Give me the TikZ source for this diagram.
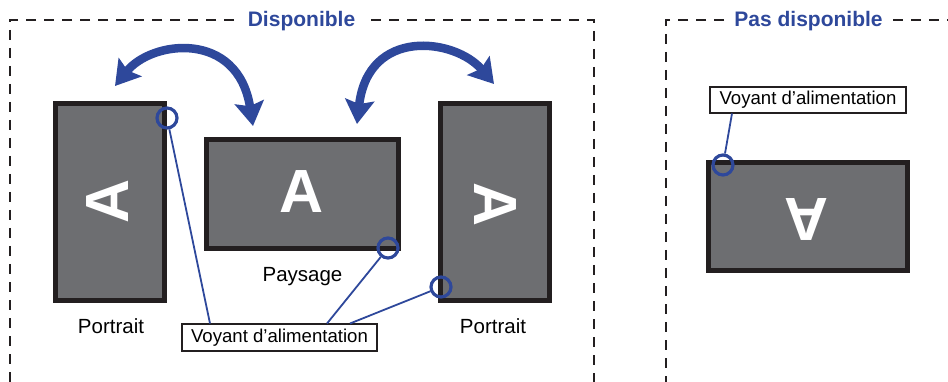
\documentclass[tikz,border=0pt]{standalone}
\usepackage{fontspec}
\setmainfont{Liberation Sans}
\usetikzlibrary{arrows.meta}
\definecolor{ledblue}{RGB}{46,72,155}
\definecolor{mongray}{RGB}{109,110,113}
\definecolor{monblack}{RGB}{35,31,32}
\tikzset{
  frame/.style={draw=monblack, line width=2.5, dash pattern=on 10pt off 8pt},
  mon/.style={draw=monblack, fill=mongray, line width=5, inner sep=0},
  letter/.style={text=white, inner sep=0, font=\fontsize{61}{61}\selectfont\bfseries},
  led/.style={draw=ledblue, line width=3.2, circle, minimum size=20, inner sep=0},
  conn/.style={draw=ledblue, line width=1.8},
  vbox/.style={draw=monblack, fill=white, line width=2, inner sep=0, font=\fontsize{18.6}{20}\selectfont},
  lbl/.style={anchor=base, inner sep=0, font=\fontsize{20.5}{24}\selectfont},
  ttl/.style={anchor=base, inner sep=0, text=ledblue, font=\fontsize{21}{24}\selectfont\bfseries},
  bigarrow/.style={draw=ledblue, line width=8.5, {Stealth[length=24pt,width=29pt,inset=4pt]}-{Stealth[length=24pt,width=29pt,inset=4pt]}}
}
\begin{document}
\begin{tikzpicture}[x=1pt,y=-1pt]
\useasboundingbox (0,0) rectangle (948,382);
% frames
\draw[frame] (234,20) -- (10,20) -- (10,395);
\draw[frame] (371,20) -- (594,20) -- (594,395);
\draw[frame] (724,20) -- (666,20) -- (666,395);
\draw[frame] (893,20) -- (960,20);
\node[ttl] (tdisp) at (301.5,26.7) {Disponible};
\node[ttl] (tpas) at (808.5,26.7) {Pas disponible};
% monitors
\node[mon, minimum width=109, minimum height=197] (m1) at (110,202) {};
\node[mon, minimum width=192, minimum height=109] (m2) at (302.5,194) {};
\node[mon, minimum width=109, minimum height=197] (m3) at (495,202) {};
\node[mon, minimum width=199, minimum height=108] (m4) at (808,216.5) {};
\node[letter, rotate=90] (a1) at (107.5,201) {A};
\node[letter] (a2) at (302,192) {A};
\node[letter, rotate=-90] (a3) at (495.5,204.5) {A};
\node[letter, rotate=180] (a4) at (806,219.5) {A};
% labels
\node[lbl] (lp1) at (111,333.3) {Portrait};
\node[lbl] (lpay) at (302.5,281.7) {Paysage};
\node[lbl] (lp2) at (493,333.3) {Portrait};
\node[vbox, minimum width=195, minimum height=27] (box1) at (279.5,337.5) {Voyant d’alimentation};
\node[vbox, minimum width=196, minimum height=26] (box2) at (808,100) {Voyant d’alimentation};
% leds
\node[led] (led1) at (167,118) {};
\node[led] (led2) at (388,248) {};
\node[led] (led3) at (441,287) {};
\node[led] (led4) at (723,165) {};
\coordinate (c1) at (210,323.5);
\coordinate (c2) at (327,323.5);
\coordinate (c3) at (350,323.5);
\coordinate (c4) at (732,113.5);
\draw[conn] (led1) -- (c1);
\draw[conn] (led2) -- (c2);
\draw[conn] (led3) -- (c3);
\draw[conn] (led4) -- (c4);
% rotation arrows
\draw[bigarrow] (115,86) .. controls (152,40) and (238,30) .. (253,126);
\draw[bigarrow] (357,124) .. controls (368,27) and (455,38) .. (494,84);
\end{tikzpicture}
\end{document}
